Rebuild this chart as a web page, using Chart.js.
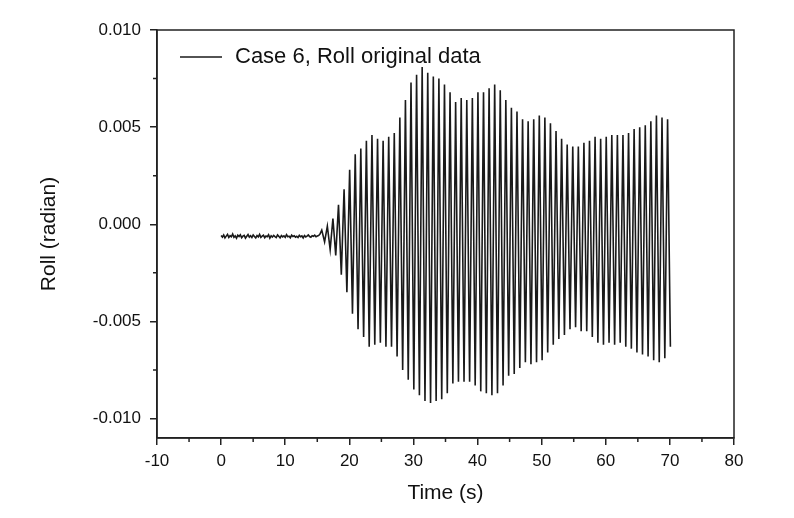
<!DOCTYPE html>
<html>
<head>
<meta charset="utf-8">
<title>Case 6 roll</title>
<script src="https://cdn.jsdelivr.net/npm/chart.js@4.4.1/dist/chart.umd.min.js"></script>
<style>
  html, body { margin: 0; padding: 0; background: #fff; }
  canvas { display: block; }
</style>
</head>
<body>
<canvas id="chart" width="794" height="518"></canvas>
<script>
// axis ticks
const xTicks = [-10, 0, 10, 20, 30, 40, 50, 60, 70, 80];
const xMinorTicks = [-5, 5, 15, 25, 35, 45, 55, 65, 75];
const yTicks = [-0.010, -0.005, 0.000, 0.005, 0.010];
const yMinorTicks = [-0.0075, -0.0025, 0.0025, 0.0075];

// quiet part before the roll starts (s, rad)
const quietTime = [0,0.2,0.4,0.6,0.8,1.0,1.2,1.4,1.6,1.8,2.0,2.2,2.4,2.6,2.8,3.0,3.2,3.4,3.6,3.8,
  4.0,4.2,4.4,4.6,4.8,5.0,5.2,5.4,5.6,5.8,6.0,6.2,6.4,6.6,6.8,7.0,7.2,7.4,7.6,7.8,
  8.0,8.2,8.4,8.6,8.8,9.0,9.2,9.4,9.6,9.8,10.0,10.2,10.4,10.6,10.8,11.0,11.2,11.4,11.6,11.8,
  12.0,12.2,12.4,12.6,12.8,13.0,13.2,13.4,13.6,13.8,14.0,14.2,14.4,14.6,14.8,15.0,15.2,15.4];
const quietRoll = [-0.00058,-0.00066,-0.00055,-0.00070,-0.00061,-0.00052,-0.00068,-0.00059,-0.00064,-0.00050,
  -0.00067,-0.00060,-0.00072,-0.00056,-0.00063,-0.00054,-0.00069,-0.00061,-0.00057,-0.00071,
  -0.00062,-0.00053,-0.00066,-0.00059,-0.00068,-0.00055,-0.00063,-0.00070,-0.00058,-0.00065,
  -0.00052,-0.00067,-0.00061,-0.00056,-0.00069,-0.00060,-0.00064,-0.00054,-0.00071,-0.00059,
  -0.00066,-0.00057,-0.00063,-0.00068,-0.00055,-0.00062,-0.00070,-0.00058,-0.00065,-0.00060,
  -0.00067,-0.00053,-0.00064,-0.00061,-0.00069,-0.00056,-0.00063,-0.00059,-0.00066,-0.00062,
  -0.00068,-0.00057,-0.00064,-0.00060,-0.00070,-0.00058,-0.00065,-0.00061,-0.00055,-0.00063,
  -0.00067,-0.00059,-0.00062,-0.00056,-0.00064,-0.00060,-0.00058,-0.00052];

// roll peaks (each cycle's top)
const peakTime = [15.70,16.57,17.44,18.31,19.18,20.05,20.92,21.79,22.66,23.53,
  24.40,25.27,26.14,27.01,27.88,28.75,29.62,30.49,31.36,32.23,
  33.10,33.97,34.84,35.71,36.58,37.45,38.32,39.19,40.06,40.93,
  41.80,42.67,43.54,44.41,45.28,46.15,47.02,47.89,48.76,49.63,
  50.50,51.37,52.24,53.11,53.98,54.85,55.72,56.59,57.46,58.33,
  59.20,60.07,60.94,61.81,62.68,63.55,64.42,65.29,66.16,67.03,
  67.90,68.77,69.64];
const peakRoll = [-0.0003,-0.0001,0.0003,0.0010,0.0018,0.0028,0.0036,0.0039,0.0043,0.0046,
  0.0044,0.0043,0.0045,0.0047,0.0055,0.0064,0.0073,0.0077,0.0081,0.0078,
  0.0076,0.0075,0.0072,0.0068,0.0063,0.0065,0.0064,0.0065,0.0068,0.0068,
  0.0070,0.0072,0.0069,0.0064,0.0060,0.0058,0.0054,0.0053,0.0054,0.0056,
  0.0055,0.0052,0.0048,0.0044,0.0041,0.0040,0.0040,0.0042,0.0043,0.0045,
  0.0044,0.0045,0.0046,0.0046,0.0046,0.0047,0.0049,0.0050,0.0051,0.0053,
  0.0056,0.0055,0.0054];

// roll troughs (each cycle's bottom)
const troughTime = [16.14,17.01,17.88,18.75,19.62,20.49,21.36,22.23,23.10,23.97,
  24.84,25.71,26.58,27.45,28.32,29.19,30.06,30.93,31.80,32.67,
  33.54,34.41,35.28,36.15,37.02,37.89,38.76,39.63,40.50,41.37,
  42.24,43.11,43.98,44.85,45.72,46.59,47.46,48.33,49.20,50.07,
  50.94,51.81,52.68,53.55,54.42,55.29,56.16,57.03,57.90,58.77,
  59.64,60.51,61.38,62.25,63.12,63.99,64.86,65.73,66.60,67.47,
  68.34,69.21,70.08];
const troughRoll = [-0.0009,-0.0013,-0.0016,-0.0026,-0.0035,-0.0046,-0.0054,-0.0058,-0.0063,-0.0062,
  -0.0061,-0.0063,-0.0063,-0.0068,-0.0075,-0.0080,-0.0085,-0.0088,-0.0091,-0.0092,
  -0.0091,-0.0090,-0.0087,-0.0082,-0.0081,-0.0081,-0.0081,-0.0083,-0.0086,-0.0087,
  -0.0088,-0.0087,-0.0083,-0.0078,-0.0077,-0.0074,-0.0071,-0.0072,-0.0071,-0.0070,
  -0.0066,-0.0062,-0.0059,-0.0057,-0.0054,-0.0053,-0.0055,-0.0055,-0.0058,-0.0061,
  -0.0062,-0.0061,-0.0062,-0.0061,-0.0063,-0.0064,-0.0066,-0.0067,-0.0068,-0.0070,
  -0.0071,-0.0069,-0.0063];

Chart.defaults.font.family = '"Liberation Sans", Arial, sans-serif';
Chart.defaults.color = '#111';

// build the point list
const points = [];
quietTime.forEach((t, i) => points.push({ x: t, y: quietRoll[i] }));
peakTime.forEach((t, i) => {
  points.push({ x: t, y: peakRoll[i] });
  points.push({ x: troughTime[i], y: troughRoll[i] });
});

const AXIS_COLOR = '#222';

// box frame, minor ticks and the legend inside the plot
const framePlugin = {
  id: 'frame',
  afterDraw(chart) {
    const { ctx, chartArea: a, scales } = chart;
    ctx.save();
    ctx.strokeStyle = AXIS_COLOR;
    ctx.lineWidth = 1.5;
    ctx.strokeRect(a.left, a.top, a.right - a.left, a.bottom - a.top);

    ctx.beginPath();
    xMinorTicks.forEach(v => {
      const px = scales.x.getPixelForValue(v);
      ctx.moveTo(px, a.bottom);
      ctx.lineTo(px, a.bottom + 4);
    });
    yMinorTicks.forEach(v => {
      const py = scales.y.getPixelForValue(v);
      ctx.moveTo(a.left, py);
      ctx.lineTo(a.left - 4, py);
    });
    ctx.stroke();

    // legend
    const ds = chart.data.datasets[0];
    const lx = a.left + 23, ly = a.top + 27;
    ctx.strokeStyle = ds.borderColor;
    ctx.lineWidth = 1.3;
    ctx.beginPath();
    ctx.moveTo(lx, ly);
    ctx.lineTo(lx + 42, ly);
    ctx.stroke();
    ctx.fillStyle = '#111';
    ctx.font = '22px "Liberation Sans", Arial, sans-serif';
    ctx.textBaseline = 'middle';
    ctx.fillText(ds.label, lx + 55, ly);
    ctx.restore();
  }
};

const ctx = document.getElementById('chart').getContext('2d');
const chart = new Chart(ctx, {
  type: 'line',
  data: {
    datasets: [{
      label: 'Case 6, Roll original data',
      data: points,
      borderColor: '#1a1a1a',
      borderWidth: 1.6,
      pointRadius: 0,
      tension: 0,
      fill: false
    }]
  },
  options: {
    responsive: false,
    animation: false,
    devicePixelRatio: 1,
    layout: { padding: { top: 30, right: 60, left: 0, bottom: 0 } },
    plugins: {
      legend: { display: false },
      tooltip: { enabled: false }
    },
    scales: {
      x: {
        type: 'linear',
        min: -10,
        max: 80,
        afterBuildTicks: s => { s.ticks = xTicks.map(v => ({ value: v })); },
        afterFit: s => { s.height = 80; },
        ticks: {
          font: { size: 17 },
          padding: 6,
          maxRotation: 0,
          callback: v => String(v)
        },
        grid: { drawOnChartArea: false, color: AXIS_COLOR, lineWidth: 1.5, tickLength: 7 },
        border: { color: AXIS_COLOR, width: 1.5 },
        title: {
          display: true,
          text: 'Time (s)',
          font: { size: 21 },
          padding: { top: 0, bottom: 12 }
        }
      },
      y: {
        type: 'linear',
        min: -0.011,
        max: 0.010,
        afterBuildTicks: s => { s.ticks = yTicks.map(v => ({ value: v })); },
        afterFit: s => { s.width = 157; },
        ticks: {
          font: { size: 17 },
          padding: 9,
          callback: v => Number(v).toFixed(3)
        },
        grid: { drawOnChartArea: false, color: AXIS_COLOR, lineWidth: 1.5, tickLength: 7 },
        border: { color: AXIS_COLOR, width: 1.5 },
        title: {
          display: true,
          text: 'Roll (radian)',
          font: { size: 21 },
          padding: { top: 37, bottom: 0 }
        }
      }
    }
  },
  plugins: [framePlugin]
});
</script>
</body>
</html>
